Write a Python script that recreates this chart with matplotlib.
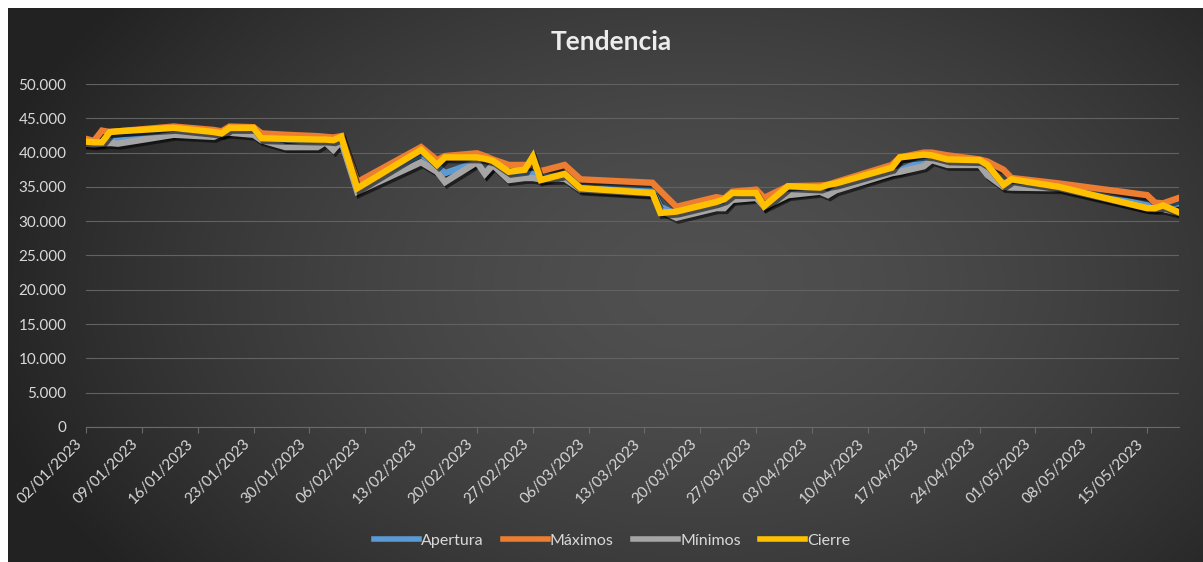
import numpy as np
import pandas as pd
import matplotlib
matplotlib.use('Agg')
import matplotlib.pyplot as plt
import matplotlib.dates as mdates
import matplotlib.patheffects as pe
import matplotlib.transforms as mtransforms
from matplotlib.ticker import FuncFormatter

# datos
fechas = ['02/01/2023', '03/01/2023', '04/01/2023', '05/01/2023', '06/01/2023', '13/01/2023',
          '18/01/2023', '19/01/2023', '20/01/2023', '23/01/2023', '24/01/2023', '27/01/2023',
          '31/01/2023', '01/02/2023', '02/02/2023', '03/02/2023', '05/02/2023', '13/02/2023',
          '15/02/2023', '16/02/2023', '20/02/2023', '21/02/2023', '22/02/2023', '24/02/2023',
          '26/02/2023', '27/02/2023', '28/02/2023', '03/03/2023', '05/03/2023', '14/03/2023',
          '15/03/2023', '17/03/2023', '22/03/2023', '23/03/2023', '24/03/2023', '27/03/2023',
          '28/03/2023', '31/03/2023', '04/04/2023', '05/04/2023', '06/04/2023', '13/04/2023',
          '14/04/2023', '17/04/2023', '18/04/2023', '20/04/2023', '24/04/2023', '25/04/2023',
          '27/04/2023', '28/04/2023', '04/05/2023', '15/05/2023', '16/05/2023', '17/05/2023',
          '19/05/2023']
apertura = [41400, 41300, 41500, 42200, 42100, 42800, 42900, 42700, 43200, 43000, 42000,
            41900, 41500, 41700, 41000, 41800, 34600, 39800, 38000, 37000, 38600, 37000,
            38200, 36800, 36900, 37000, 36500, 36600, 34900, 34500, 32100, 31000, 32300,
            32300, 33300, 33600, 32400, 34000, 34600, 34200, 35000, 37200, 37400, 38800,
            39200, 38800, 38600, 37600, 35500, 35800, 35000, 32300, 32200, 32400, 32600]
maximos = [42000, 41700, 43200, 43000, 43100, 43800, 43300, 43100, 43800, 43700, 42800,
           42600, 42400, 42300, 42200, 42400, 35700, 40800, 38900, 39500, 39900, 39500,
           39000, 38200, 38200, 38200, 37300, 38200, 36100, 35600, 34400, 32100, 33500,
           33300, 34300, 34600, 33400, 35100, 35200, 35300, 35700, 38200, 39300, 40000,
           40000, 39600, 39000, 38700, 37500, 36300, 35500, 33800, 32700, 32600, 33400]
minimos = [41300, 41200, 41300, 41400, 41300, 42600, 42300, 42800, 42900, 42600, 41800,
           40800, 40800, 41500, 40400, 41700, 34300, 38600, 37200, 35700, 38600, 36900,
           38200, 36000, 36300, 36300, 36100, 36200, 34600, 34000, 31600, 30500, 31900,
           31900, 33100, 33400, 32100, 33800, 34300, 33800, 34500, 37000, 37200, 38000,
           38900, 38200, 38200, 36700, 35000, 34900, 34800, 31900, 31800, 31800, 31200]
cierre = [41600, 41500, 41500, 43000, 43100, 43600, 43000, 42800, 43600, 43600, 42100,
          42000, 41900, 41900, 41800, 42300, 34800, 40400, 38200, 39300, 39300, 39100,
          38800, 37200, 37500, 39400, 36000, 36900, 34800, 34100, 31200, 31400, 32800,
          33200, 34100, 34100, 32200, 35100, 34900, 35300, 35500, 37800, 39300, 39700,
          39600, 39000, 38900, 38200, 35300, 36100, 35000, 31900, 31900, 32300, 31300]

series = [('Apertura', apertura, '#5b9bd5'),
          ('Máximos', maximos, '#ed7d31'),
          ('Mínimos', minimos, '#a5a5a5'),
          ('Cierre', cierre, '#ffc000')]

plt.rcParams['font.family'] = ['Lato', 'DejaVu Sans']
txt = '#d9d9d9'

W, H = 1203, 562
fig = plt.figure(figsize=(W / 100, H / 100), dpi=100, facecolor='white')

# fondo con degradado radial (estilo Excel oscuro)
bg = fig.add_axes([8 / W, 0, 1 - 8 / W, 1 - 8 / H], zorder=-5)
gx, gy = np.meshgrid(np.linspace(0, 1, 400), np.linspace(0, 1, 200))
r = np.sqrt(((gx - 0.58) / 0.62) ** 2 + ((gy - 0.5) / 0.85) ** 2)
t = np.clip(r, 0, 1) ** 1.6
c0 = np.array([0x50, 0x50, 0x50]) / 255
c1 = np.array([0x22, 0x22, 0x22]) / 255
img = c0[None, None, :] * (1 - t[..., None]) + c1[None, None, :] * t[..., None]
bg.imshow(img, aspect='auto', extent=[0, 1, 0, 1])
bg.axis('off')

ax = fig.add_axes([86 / W, 1 - 427 / H, (1179 - 86) / W, (427 - 84) / H])
ax.set_facecolor('none')

x = pd.to_datetime(fechas, format='%d/%m/%Y')
for nombre, vals, col in series:
    ax.plot(x, vals, color=col, lw=4.6, label=nombre, solid_joinstyle='miter',
            path_effects=[pe.SimpleLineShadow(offset=(1.5, -2), shadow_color='black', alpha=0.55),
                          pe.Normal()])

ax.set_ylim(0, 50000)
ax.set_yticks(np.arange(0, 50001, 5000))
ax.yaxis.set_major_formatter(FuncFormatter(lambda v, p: f'{v:,.0f}'.replace(',', '.')))
ax.set_xlim(pd.Timestamp('2023-01-02'), pd.Timestamp('2023-05-19'))
ticks = pd.date_range('2023-01-02', '2023-05-15', freq='7D')
ax.set_xticks(ticks)
ax.xaxis.set_major_formatter(mdates.DateFormatter('%d/%m/%Y'))

ax.grid(axis='y', color='#626262', lw=0.8)
ax.set_axisbelow(True)
for s in ['top', 'right', 'left']:
    ax.spines[s].set_visible(False)
ax.spines['bottom'].set_color('#6a6a6a')
ax.tick_params(axis='y', length=0, labelsize=11, labelcolor=txt, pad=14)
ax.tick_params(axis='x', length=4, color='#6a6a6a', labelsize=11, labelcolor=txt, pad=3)
shift = mtransforms.ScaledTranslation(-0.11, 0, fig.dpi_scale_trans)
for lab in ax.get_xticklabels():
    lab.set_rotation(45)
    lab.set_ha('right')
    lab.set_va('top')
    lab.set_rotation_mode('anchor')
    lab.set_transform(lab.get_transform() + shift)

fig.text(0.508, 1 - 42 / H, 'Tendencia', ha='center', va='center', fontsize=19,
         fontweight='bold', color='#ececec')

leg = fig.legend(loc='center', bbox_to_anchor=(612 / W, 1 - 541 / H), ncol=4, frameon=False,
                 fontsize=11.5, handlelength=2.8, handletextpad=0.15, columnspacing=1.2)
for tx in leg.get_texts():
    tx.set_color(txt)
for h in leg.get_lines():
    h.set_path_effects([])
    h.set_linewidth(4)

fig.savefig('out.png', dpi=100, facecolor='white')
